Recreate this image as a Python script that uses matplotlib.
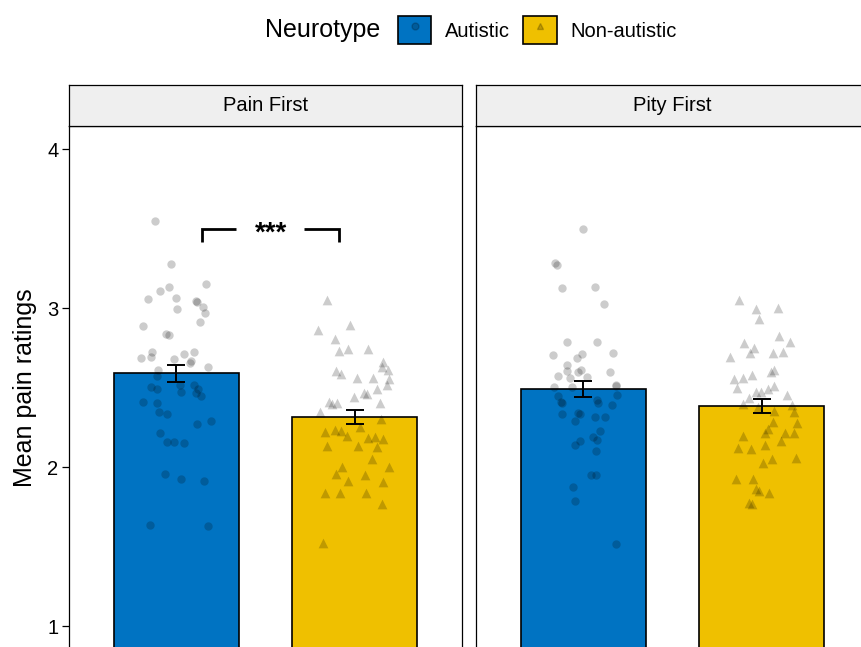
import matplotlib
matplotlib.use("Agg")
import matplotlib.pyplot as plt
from matplotlib.patches import Patch
from matplotlib.lines import Line2D
from matplotlib.legend_handler import HandlerTuple

plt.rcParams["font.family"] = ["Liberation Sans", "DejaVu Sans"]

# ---- data -------------------------------------------------------------
panels = ["Pain First", "Pity First"]
groups = ["Autistic", "Non-autistic"]
bar_colors = ["#0073C2", "#EFC000"]
group_markers = ["o", "^"]

means = {"Pain First": [2.59, 2.314], "Pity First": [2.49, 2.384]}
sems = {"Pain First": [0.055, 0.044], "Pity First": [0.049, 0.045]}

# per-participant ratings (y) and their horizontal jitter (dx)
pain_aut_y = [3.545, 3.277, 3.153, 3.134, 3.105, 3.058, 3.061, 3.040, 3.047, 3.008,
              2.994, 2.969, 2.912, 2.887, 2.836, 2.828, 2.725, 2.686, 2.690, 2.711,
              2.725, 2.679, 2.654, 2.667, 2.629, 2.608, 2.572, 2.505, 2.489, 2.516,
              2.474, 2.516, 2.492, 2.464, 2.447, 2.407, 2.404, 2.346, 2.331, 2.272,
              2.287, 2.216, 2.159, 2.157, 2.153, 1.958, 1.926, 1.914, 1.637, 1.629]
pain_aut_dx = [-0.116, -0.031, 0.165, -0.040, -0.092, -0.158, -0.001, 0.118, 0.109, 0.150,
               0.003, 0.163, 0.133, -0.185, -0.055, -0.040, -0.133, -0.198, -0.141, 0.046,
               0.099, -0.012, 0.075, 0.081, 0.176, -0.103, -0.107, -0.142, -0.105, 0.020,
               0.029, 0.098, 0.124, 0.113, 0.137, -0.185, -0.105, -0.096, -0.049, 0.116,
               0.197, -0.088, -0.053, -0.014, 0.044, -0.064, 0.027, 0.155, -0.146, 0.180]

pain_non_y = [3.050, 2.862, 2.891, 2.805, 2.730, 2.742, 2.740, 2.658, 2.627, 2.610,
              2.606, 2.583, 2.562, 2.558, 2.552, 2.516, 2.489, 2.464, 2.457, 2.440,
              2.403, 2.411, 2.394, 2.404, 2.348, 2.300, 2.218, 2.233, 2.228, 2.197,
              2.253, 2.180, 2.191, 2.174, 2.134, 2.132, 2.128, 2.052, 2.002, 2.002,
              1.954, 1.950, 1.912, 1.908, 1.835, 1.835, 1.838, 1.767, 1.520]
pain_non_dx = [-0.154, -0.204, -0.025, -0.111, -0.088, -0.036, 0.075, 0.155, 0.152, 0.187,
               -0.105, -0.077, 0.014, 0.099, 0.193, 0.178, 0.122, 0.049, 0.068, -0.007,
               0.141, -0.142, -0.127, -0.099, -0.193, 0.146, -0.165, -0.109, -0.077, -0.046,
               0.029, 0.072, 0.115, 0.155, -0.157, 0.016, 0.122, 0.094, 0.193, -0.074,
               -0.105, 0.059, -0.036, 0.158, -0.165, -0.083, 0.063, 0.154, -0.178]

pity_aut_y = [3.495, 3.285, 3.272, 3.124, 3.134, 3.023, 2.784, 2.788, 2.704, 2.709,
              2.684, 2.719, 2.642, 2.604, 2.608, 2.599, 2.597, 2.572, 2.562, 2.564,
              2.516, 2.505, 2.501, 2.509, 2.453, 2.448, 2.411, 2.401, 2.421, 2.401,
              2.388, 2.331, 2.338, 2.331, 2.291, 2.316, 2.316, 2.226, 2.191, 2.170,
              2.165, 2.136, 2.099, 1.948, 1.948, 1.876, 1.788, 1.516]
pity_aut_dx = [0.001, -0.158, -0.144, -0.116, 0.066, 0.116, -0.092, 0.079, -0.169, -0.007,
               -0.032, 0.166, -0.088, -0.088, -0.014, -0.029, 0.150, -0.141, -0.075, 0.020,
               0.183, -0.163, -0.060, 0.185, 0.187, -0.141, -0.126, -0.116, 0.075, 0.085,
               0.163, -0.120, -0.029, -0.018, -0.047, 0.066, 0.120, 0.094, 0.055, 0.079,
               -0.018, -0.046, 0.070, 0.046, 0.074, -0.059, -0.047, 0.183]

pity_non_y = [3.050, 2.992, 3.002, 2.931, 2.826, 2.778, 2.788, 2.747, 2.715, 2.715,
              2.725, 2.694, 2.610, 2.596, 2.579, 2.553, 2.558, 2.495, 2.511, 2.491,
              2.474, 2.470, 2.453, 2.436, 2.394, 2.390, 2.379, 2.352, 2.348, 2.285,
              2.275, 2.239, 2.212, 2.212, 2.212, 2.197, 2.164, 2.121, 2.113, 2.138,
              2.055, 2.048, 2.023, 1.923, 1.923, 1.862, 1.849, 1.838, 1.772, 1.765]
pity_non_dx = [-0.127, -0.030, 0.091, -0.018, 0.097, -0.099, 0.158, -0.043, -0.065, 0.060,
               0.119, -0.179, 0.069, 0.050, -0.056, -0.158, -0.108, -0.140, 0.069, 0.032,
               -0.006, -0.034, 0.140, -0.071, -0.108, 0.168, -0.024, 0.069, 0.180, 0.063,
               0.199, 0.035, 0.017, 0.130, 0.180, -0.108, 0.106, -0.136, -0.061, 0.017,
               0.190, 0.056, 0.009, -0.145, -0.049, -0.034, -0.018, 0.041, -0.071, -0.056]

points = {
    "Pain First": [(pain_aut_dx, pain_aut_y), (pain_non_dx, pain_non_y)],
    "Pity First": [(pity_aut_dx, pity_aut_y), (pity_non_dx, pity_non_y)],
}

y_ticks = [1, 2, 3, 4]
sig_label = "***"

# ---- layout (pixels) ---------------------------------------------------
W, H = 862, 647
fig = plt.figure(figsize=(W / 100, H / 100), dpi=100)

y_top = 4.145
px_per_unit = 159
panel_top = 126
panel_h = y_top * px_per_unit
panel_w = 393
panel_lefts = [69, 476]
strip_h = 41

x_pos = [1, 2]
bar_width = 0.7

axes = []
for i, (panel, left) in enumerate(zip(panels, panel_lefts)):
    ax = fig.add_axes([left / W, (H - panel_top - panel_h) / H, panel_w / W, panel_h / H])
    axes.append(ax)
    for j in range(2):
        ax.bar(x_pos[j], means[panel][j], width=bar_width, color=bar_colors[j],
               edgecolor="black", linewidth=1.2, zorder=2)
        dx, ys = points[panel][j]
        ax.scatter([x_pos[j] + d for d in dx], ys, marker=group_markers[j],
                   s=36 if group_markers[j] == "o" else 49, color="black",
                   alpha=0.2, linewidths=0, zorder=3)
        ax.errorbar(x_pos[j], means[panel][j], yerr=sems[panel][j], color="black",
                    elinewidth=1.4, capsize=6.5, capthick=1.4, zorder=4)
    ax.set_xlim(0.4, 2.6)
    ax.set_ylim(0, y_top)
    ax.set_xticks([])
    for sp in ax.spines.values():
        sp.set_color("black")
        sp.set_linewidth(0.9)
    if i == 0:
        ax.set_yticks(y_ticks)
        ax.tick_params(axis="y", labelsize=14.5, length=5, width=0.9, pad=2.5, color="black")
        ax.set_ylabel("Mean pain ratings", fontsize=18)
        ax.yaxis.set_label_coords((37 - 69) / panel_w, 0.6024)
    else:
        ax.set_yticks([])

    # facet strip
    sax = fig.add_axes([left / W, (H - panel_top) / H, panel_w / W, strip_h / H])
    sax.set_facecolor("#EFEFEF")
    sax.set_xticks([])
    sax.set_yticks([])
    for sp in sax.spines.values():
        sp.set_color("black")
        sp.set_linewidth(0.9)
    sax.text(0.5, 0.5, panel, ha="center", va="center", fontsize=14.5,
             transform=sax.transAxes)

# significance bracket in the first panel
ax = axes[0]
b_y, b_drop = 3.495, 0.078
b_x0, b_x1 = 1.143, 1.914
gap0, gap1 = 1.333, 1.718
ax.plot([b_x0, b_x0, gap0], [b_y - b_drop, b_y, b_y], color="black", lw=2.0,
        solid_capstyle="butt", solid_joinstyle="miter", zorder=5)
ax.plot([gap1, b_x1, b_x1], [b_y, b_y, b_y - b_drop], color="black", lw=2.0,
        solid_capstyle="butt", solid_joinstyle="miter", zorder=5)
ax.text((b_x0 + b_x1) / 2, b_y - 0.03, sig_label, ha="center", va="center",
        fontsize=20, fontweight="bold", zorder=5)

# legend
handles = []
for c, m in zip(bar_colors, group_markers):
    handles.append((Patch(facecolor=c, edgecolor="black", linewidth=1.2),
                    Line2D([], [], marker=m, linestyle="", color="black", alpha=0.2,
                           markersize=5)))
fig.legend(handles, groups, handler_map={tuple: HandlerTuple(ndivide=1, pad=0)},
           ncol=2, loc="center", bbox_to_anchor=(537.5 / W, 1 - 30 / H),
           frameon=False, fontsize=14.5, handlelength=1.65, handleheight=1.7,
           handletextpad=0.7, columnspacing=0.65, borderpad=0, borderaxespad=0)
fig.text(322.5 / W, 1 - 30 / H, "Neurotype", ha="center", va="center", fontsize=18)

fig.savefig("out.png", dpi=100)
